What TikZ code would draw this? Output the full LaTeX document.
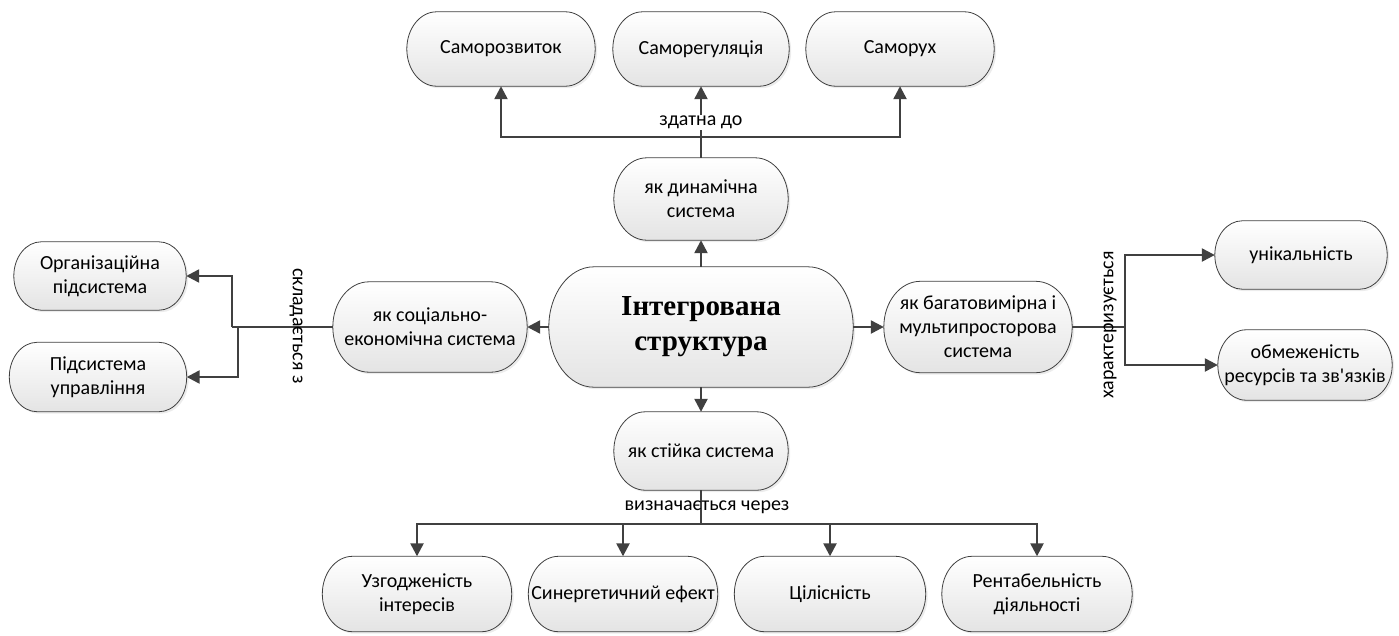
\documentclass[tikz,border=0pt]{standalone}
\usepackage{fontspec}
\setmainfont{Carlito}
\newfontfamily\nolig{Carlito}[Ligatures=TeXOff]
\newfontfamily\tnr{Liberation Serif}
\usetikzlibrary{arrows.meta,shadows,calc,backgrounds}
\definecolor{lc}{RGB}{64,64,64}
\definecolor{boxbot}{RGB}{228,228,228}
\newcommand\drawcap[2][0.8]{%
  \path[capst] let \p1=(#2.south west), \p2=(#2.north east),
    \n1={#1*(\y2-\y1)/2}, \n2={(\y2-\y1)/2} in
    (\x1+\n1,\y2) -- (\x2-\n1,\y2)
    arc[start angle=90,end angle=-90,x radius={\n1*1pt},y radius={\n2*1pt}]
    -- (\x1+\n1,\y1)
    arc[start angle=270,end angle=90,x radius={\n1*1pt},y radius={\n2*1pt}]
    -- cycle;}
\begin{document}
\begin{tikzpicture}[x=1pt,y=-1pt,
  bx/.style={rectangle, align=center,
    font=\fontsize{20}{24}\selectfont, inner sep=2pt},
  capst/.style={draw=lc, line width=0.8pt, top color=white, bottom color=boxbot,
    drop shadow={shadow xshift=2pt, shadow yshift=-2pt, opacity=0.15}},
  ln/.style={line width=2.4pt, draw=lc},
  cn/.style={ln, -{Triangle[length=13pt,width=13pt]}},
  lbl/.style={font=\fontsize{20}{24}\selectfont, inner sep=1pt}]
\useasboundingbox (0,0) rectangle (1399,635);
% nodes
\node[bx, minimum width=188pt, minimum height=74pt] (sd) at (501,49) {Саморозвиток};
\node[bx, minimum width=176pt, minimum height=74pt] (sr) at (701,49) {Саморегуляція};
\node[bx, minimum width=188pt, minimum height=74pt] (sm) at (900,49) {Саморух};
\node[bx, minimum width=174pt, minimum height=82pt] (dyn) at (701,199) {як динамічна\\система};
\node[bx, minimum width=304pt, minimum height=120pt,
  font=\tnr\bfseries\fontsize{29}{35}\selectfont] (main) at (701,327) {Інтегрована\\структура};
\node[bx, minimum width=194pt, minimum height=90pt] (soc) at (430,327) {як соціально-\\економічна система};
\node[bx, minimum width=172pt, minimum height=68pt] (org) at (100,276) {Організаційна\\підсистема};
\node[bx, minimum width=177pt, minimum height=69pt] (upr) at (98,377) {Підсистема\\управління};
\node[bx, minimum width=188pt, minimum height=91pt] (multi) at (978,327) {як багатовимірна і\\мультипросторова\\система};
\node[bx, minimum width=172pt, minimum height=68pt] (uni) at (1301,255) {унікальність};
\node[bx, minimum width=174pt, minimum height=70pt] (obm) at (1305,365) {обмеженість\\ресурсів та зв{\nolig'}язків};
\node[bx, minimum width=174pt, minimum height=78pt] (st) at (701,451) {як стійка система};
\node[bx, minimum width=189pt, minimum height=75pt] (uz) at (417,594) {Узгодженість\\інтересів};
\node[bx, minimum width=189pt, minimum height=75pt] (syn) at (623,594) {Синергетичний ефект};
\node[bx, minimum width=191pt, minimum height=75pt] (cil) at (830,594) {Цілісність};
\node[bx, minimum width=190pt, minimum height=75pt] (ren) at (1037,594) {Рентабельність\\діяльності};
% box outlines behind the text
\begin{scope}[on background layer]
\drawcap{sd}\drawcap{sr}\drawcap{sm}\drawcap{dyn}
\drawcap[0.75]{main}\drawcap{soc}\drawcap{org}\drawcap{upr}
\drawcap{multi}\drawcap{uni}\drawcap{obm}\drawcap{st}
\drawcap{uz}\drawcap{syn}\drawcap{cil}\drawcap{ren}
\end{scope}
% junctions
\coordinate (jt) at (701,137);
\coordinate (jl) at (232,327);
\coordinate (jl2) at (238,327);
\coordinate (jr) at (1125,327);
\coordinate (jb) at (701,524);
% connectors from centre
\draw[cn] (main) -- (dyn);
\draw[cn] (main) -- (soc);
\draw[cn] (main) -- (multi);
\draw[cn] (main) -- (st);
% top
\draw[ln] (dyn) -- (jt);
\draw[cn] (jt) -| (sd);
\draw[cn] (jt) -| (sm);
\draw[cn] (jt) -- (sr);
\node[lbl, fill=white] (lz) at (701,122) {здатна до};
% left
\draw[ln] (soc) -- (jl);
\draw[cn] (jl) |- (org);
\draw[cn] (jl2) |- (upr);
\node[lbl, rotate=-90] (ls) at (296,326) {складається з};
% right
\draw[ln] (multi) -- (jr);
\draw[cn] (jr) |- (uni);
\draw[cn] (jr) |- (obm);
\node[lbl, rotate=90] (lh) at (1110,325) {характеризується};
% bottom
\draw[ln] (st) -- (jb);
\draw[cn] (jb) -| (uz);
\draw[cn] (jb) -| (syn);
\draw[cn] (jb) -| (cil);
\draw[cn] (jb) -| (ren);
\node[lbl] (lv) at (707,507) {визначається через};
\end{tikzpicture}
\end{document}
